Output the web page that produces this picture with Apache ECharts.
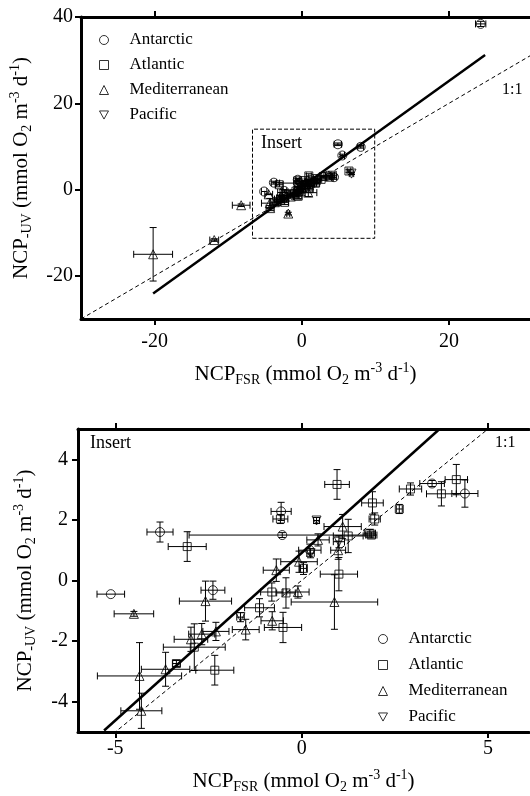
<!DOCTYPE html>
<html><head><meta charset="utf-8">
<script src="https://cdn.jsdelivr.net/npm/echarts@6/dist/echarts.min.js"></script>
<style>html,body{margin:0;padding:0;background:#fff}#c{width:530px;height:796px}</style>
</head><body><div id="c"></div>
<script>
// ---- data (NCP_FSR = x, NCP_-UV = y, with error half-widths) ----
const antarcticX    = [-5.12, -3.8, -2.38, -0.55, -0.52, 0.22, 3.5, 4.38, 4.9, 5.5, 8.0, 24.3];
const antarcticY    = [-0.45, 1.6, -0.32, 2.28, 1.5, 1.0, 3.2, 2.87, 10.5, 7.9, 9.9, 38.4];
const antarcticXErr = [0.37, 0.35, 0.32, 0.27, 2.5, 0.3, 0.33, 0.35, 0.5, 0.3, 0.4, 0.7];
const antarcticYErr = [0, 0.33, 0.3, 0.3, 0.08, 0.2, 0.1, 0.45, 0.3, 0.3, 0.3, 0.6];

const atlanticX    = [-3.07, -0.57, 0.95, 1.9, 1.96, 1.83, 1.87, 2.62, 2.92, 3.75, 4.15, 1.25, 0.05, 1.0, -0.8, -0.42, -1.13, -0.5, -2.88, -3.36, -2.33, 6.4];
const atlanticY    = [1.12, 2.03, 3.17, 2.56, 2.03, 1.56, 1.5, 2.36, 3.02, 2.86, 3.33, 1.47, 0.4, 0.21, -0.38, -0.41, -0.9, -1.55, -2.2, -2.74, -2.96, 4.3];
const atlanticXErr = [0.51, 0.2, 0.33, 0.29, 0.15, 0.15, 0.15, 0.08, 0.3, 0.4, 0.3, 0.4, 0.08, 0.5, 0.3, 0.25, 0.4, 0.5, 0.83, 0.1, 0.51, 0.25];
const atlanticYErr = [0.49, 0.15, 0.49, 0.37, 0.2, 0.12, 0.1, 0.15, 0.2, 0.4, 0.5, 0.55, 0.2, 0.55, 0.3, 0.5, 0.3, 0.5, 0.77, 0.1, 0.49, 0.3];

const medX    = [-4.5, -2.58, -0.68, -2.97, -2.68, -2.3, -1.5, -0.79, -3.65, -4.35, -4.3, 0.88, 1.1, 0.44, 0.98, -0.07, -0.1, -1.84, -8.24, -11.9, -20.2];
const medY    = [-1.1, -0.68, 0.34, -1.94, -1.77, -1.68, -1.62, -1.33, -2.93, -3.15, -4.3, -0.71, 1.78, 1.34, 1.0, 0.62, -0.38, -5.56, -3.63, -11.7, -15.0];
const medXErr = [0.53, 0.7, 0.35, 0.45, 0.35, 0.35, 0.36, 0.3, 0.65, 1.13, 0.55, 1.16, 0.5, 0.3, 0.2, 0.49, 0.3, 0.2, 1.2, 0.6, 2.64];
const medYErr = [0.08, 0.66, 0.37, 0.4, 0.35, 0.3, 0.34, 0.3, 0.56, 1.1, 0.58, 0.9, 0.4, 0.2, 0.3, 0.35, 0.2, 0.3, 0.3, 0.3, 6.2];

const pacificX    = [0.4, -1.64, 1.0, 0.24, 6.75];
const pacificY    = [1.98, -1.21, 1.28, 0.9, 3.7];
const pacificXErr = [0.08, 0.1, 0.15, 0.1, 0.3];
const pacificYErr = [0.1, 0.15, 0.2, 0.15, 0.2];

// regression lines and 1:1 lines (endpoints)
const fitTopX = [-20.2, 24.9];
const fitTopY = [-24.1, 31.2];
const fitInsetX = [-5.3, 3.7];
const fitInsetY = [-4.95, 5.0];
const oneToOneTop = [-30, 31];
const oneToOneInset = [-5.2, 5.2];

// insert box (data coords on the top chart)
const insertBoxX = [-6.7, 9.9];
const insertBoxY = [-11.3, 14.0];

// axes
const topXRange = [-30, 31], topYRange = [-30, 40];
const insetXRange = [-6, 6.1], insetYRange = [-5, 5];
const topXTicks = [-20, 0, 20], topYTicks = [-20, 0, 20, 40];
const insetXTicks = [-5, 0, 5], insetYTicks = [-4, -2, 0, 2, 4];

const regions = ['Antarctic', 'Atlantic', 'Mediterranean', 'Pacific'];
const regionData = [
  [antarcticX, antarcticY, antarcticXErr, antarcticYErr],
  [atlanticX, atlanticY, atlanticXErr, atlanticYErr],
  [medX, medY, medXErr, medYErr],
  [pacificX, pacificY, pacificXErr, pacificYErr]
];
const downTri = 'path://M0,0L10,0L5,9Z';
const symbols = ['circle', 'rect', 'triangle', downTri];
const symSizes = [9, 8, 9, 9];

const FONT = 'Liberation Serif';
const nameStyle = {
  fontFamily: FONT, fontSize: 21, color: '#000', lineHeight: 26,
  rich: {
    sub: {fontFamily: FONT, fontSize: 14, color: '#000', verticalAlign: 'bottom', lineHeight: 14},
    sup: {fontFamily: FONT, fontSize: 14, color: '#000', verticalAlign: 'top', lineHeight: 14}
  }
};
const xName = 'NCP{sub|FSR} (mmol O{sub|2} m{sup|-3} d{sup|-1})';
const yName = 'NCP{sub|-UV} (mmol O{sub|2} m{sup|-3} d{sup|-1})';

function axisLine() { return {show: true, onZero: false, lineStyle: {color: '#000', width: 3}}; }
function tick(vals) { return {show: true, inside: false, length: 6, customValues: vals, lineStyle: {color: '#000', width: 2}}; }
function lbl(vals, margin) { return {show: true, customValues: vals, margin: margin, fontFamily: FONT, fontSize: 20, color: '#000'}; }

function pairs(xs, ys) { return xs.map((x, i) => [x, ys[i]]); }

function errRender(params, api) {
  const x = api.value(0), y = api.value(1), xe = api.value(2), ye = api.value(3);
  const st = {stroke: '#000', lineWidth: 1, fill: null};
  const cap = 3.5;
  const ch = [];
  if (xe > 0) {
    const l = api.coord([x - xe, y]), r = api.coord([x + xe, y]);
    ch.push({type: 'line', shape: {x1: l[0], y1: l[1], x2: r[0], y2: r[1]}, style: st});
    ch.push({type: 'line', shape: {x1: l[0], y1: l[1] - cap, x2: l[0], y2: l[1] + cap}, style: st});
    ch.push({type: 'line', shape: {x1: r[0], y1: r[1] - cap, x2: r[0], y2: r[1] + cap}, style: st});
  }
  if (ye > 0) {
    const t = api.coord([x, y + ye]), b = api.coord([x, y - ye]);
    ch.push({type: 'line', shape: {x1: t[0], y1: t[1], x2: b[0], y2: b[1]}, style: st});
    ch.push({type: 'line', shape: {x1: t[0] - cap, y1: t[1], x2: t[0] + cap, y2: t[1]}, style: st});
    ch.push({type: 'line', shape: {x1: b[0] - cap, y1: b[1], x2: b[0] + cap, y2: b[1]}, style: st});
  }
  return {type: 'group', children: ch, silent: true};
}

const series = [];
function addChart(xi, yi, fitX, fitY, one, clip) {
  series.push({type: 'line', xAxisIndex: xi, yAxisIndex: yi, data: pairs(one, one), symbol: 'none', silent: true,
    lineStyle: {color: '#000', width: 1, type: [4, 3]}, clip: true, z: 1});
  series.push({type: 'line', xAxisIndex: xi, yAxisIndex: yi, data: pairs(fitX, fitY), symbol: 'none', silent: true,
    lineStyle: {color: '#000', width: 2.5}, clip: true, z: 2});
  regions.forEach((name, k) => {
    const d = regionData[k];
    series.push({type: 'custom', xAxisIndex: xi, yAxisIndex: yi, renderItem: errRender, clip: clip, silent: true, z: 3,
      data: d[0].map((x, i) => [x, d[1][i], d[2][i], d[3][i]])});
    series.push({type: 'scatter', name: name, xAxisIndex: xi, yAxisIndex: yi, symbol: symbols[k], symbolSize: symSizes[k],
      clip: clip, z: 4, silent: true,
      itemStyle: {color: 'rgba(0,0,0,0)', borderColor: '#000', borderWidth: 1},
      data: pairs(d[0], d[1])});
  });
}
addChart(0, 0, fitTopX, fitTopY, oneToOneTop, true);
addChart(2, 1, fitInsetX, fitInsetY, oneToOneInset, true);

// insert box on the top chart
series.push({type: 'line', xAxisIndex: 0, yAxisIndex: 0, symbol: 'none', silent: true, z: 1,
  data: [[insertBoxX[0], insertBoxY[0]], [insertBoxX[1], insertBoxY[0]], [insertBoxX[1], insertBoxY[1]], [insertBoxX[0], insertBoxY[1]], [insertBoxX[0], insertBoxY[0]]],
  lineStyle: {color: '#000', width: 1, type: [4, 2]}});

const legendData = regions.map((n, k) => ({name: n, icon: symbols[k]}));
function legend(left, top, gap) {
  return {data: legendData, orient: 'vertical', left: left, top: top, itemWidth: 9, itemHeight: 9, itemGap: gap,
    selectedMode: false,
    itemStyle: {color: 'rgba(0,0,0,0)', borderColor: '#000', borderWidth: 1},
    textStyle: {fontFamily: FONT, fontSize: 17, color: '#000', lineHeight: 20, padding: [0, 0, 0, 16]}};
}

const txt = (left, top, s, size) => ({type: 'text', left: left, top: top, style: {text: s, fontFamily: FONT, fontSize: size, fill: '#000'}});

const option = {
  animation: false,
  backgroundColor: '#fff',
  grid: [
    {left: 80, top: 17, width: 454, height: 302},
    {left: 78, top: 429, width: 451, height: 303}
  ],
  xAxis: [
    {type: 'value', gridIndex: 0, position: 'bottom', min: topXRange[0], max: topXRange[1],
      name: xName, nameLocation: 'middle', nameGap: 42, nameTextStyle: nameStyle,
      axisLine: axisLine(), axisTick: tick(topXTicks), axisLabel: lbl(topXTicks, 13), splitLine: {show: false}},
    {type: 'value', gridIndex: 0, position: 'top', min: topXRange[0], max: topXRange[1],
      axisLine: axisLine(), axisTick: tick(topXTicks), axisLabel: {show: false}, splitLine: {show: false}},
    {type: 'value', gridIndex: 1, position: 'bottom', min: insetXRange[0], max: insetXRange[1],
      name: xName, nameLocation: 'middle', nameGap: 36, nameTextStyle: nameStyle,
      axisLine: axisLine(), axisTick: tick(insetXTicks), axisLabel: lbl(insetXTicks, 7), splitLine: {show: false}},
    {type: 'value', gridIndex: 1, position: 'top', min: insetXRange[0], max: insetXRange[1],
      axisLine: axisLine(), axisTick: tick(insetXTicks), axisLabel: {show: false}, splitLine: {show: false}}
  ],
  yAxis: [
    {type: 'value', gridIndex: 0, position: 'left', min: topYRange[0], max: topYRange[1],
      name: yName, nameLocation: 'middle', nameGap: 47, nameRotate: 90, nameTextStyle: nameStyle,
      axisLine: axisLine(), axisTick: tick(topYTicks), axisLabel: lbl(topYTicks, 8), splitLine: {show: false}},
    {type: 'value', gridIndex: 1, position: 'left', min: insetYRange[0], max: insetYRange[1],
      name: yName, nameLocation: 'middle', nameGap: 40, nameRotate: 90, nameTextStyle: nameStyle,
      axisLine: axisLine(), axisTick: tick(insetYTicks), axisLabel: lbl(insetYTicks, 10), splitLine: {show: false}}
  ],
  legend: [legend(94, 25, 5), legend(373, 624, 6)],
  graphic: [
    txt(261, 134, 'Insert', 18),
    txt(502, 82, '1:1', 16),
    txt(90, 434, 'Insert', 18),
    txt(495, 435, '1:1', 16)
  ],
  series: series
};
const chart = echarts.init(document.getElementById('c'), null, {renderer: 'canvas'});
chart.setOption(option);
</script></body></html>
